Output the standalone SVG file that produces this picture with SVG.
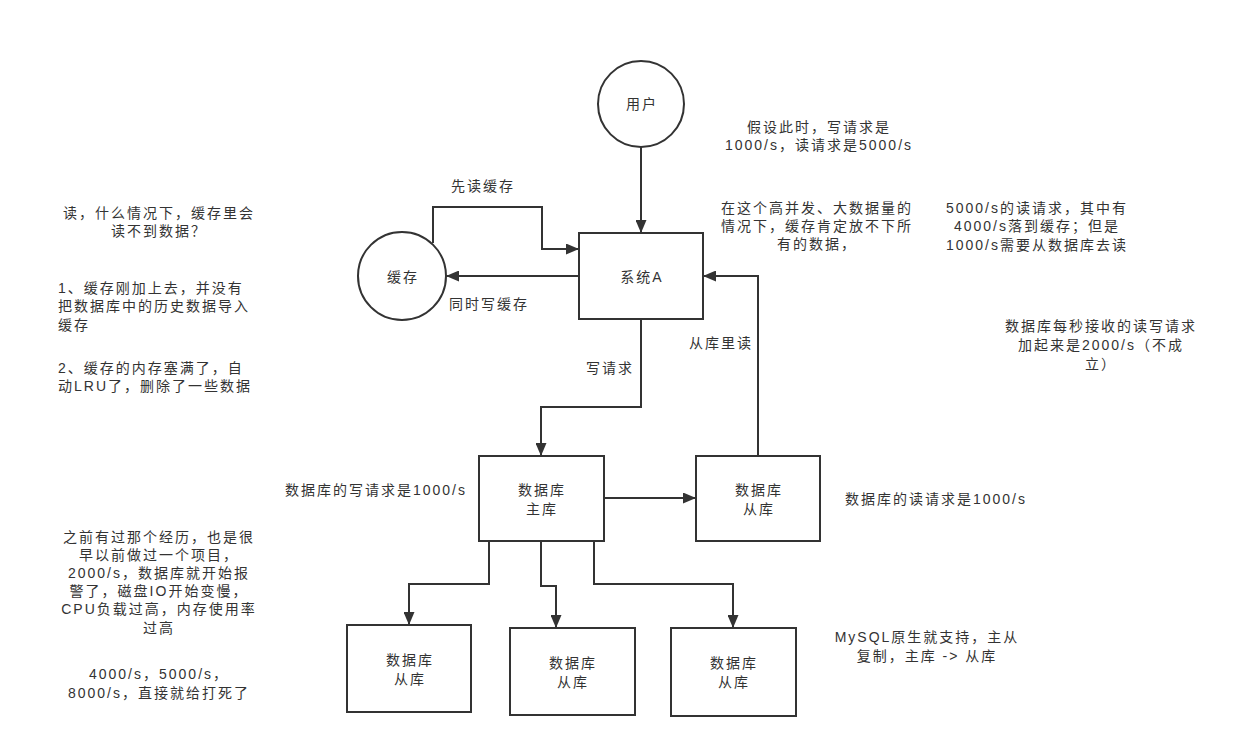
<svg xmlns="http://www.w3.org/2000/svg" width="1240" height="756" viewBox="0 0 1240 756">
<defs>
<marker id="arr" markerUnits="userSpaceOnUse" markerWidth="13" markerHeight="11" refX="13" refY="5.5" orient="auto">
<path d="M0,0 L13,5.5 L0,11 z" fill="#333"/>
</marker>
<style>
.n{fill:#fff;stroke:#333;stroke-width:2}
.c{fill:none;stroke:#333;stroke-width:2;marker-end:url(#arr)}
text{font-family:"Liberation Sans","Noto Sans CJK SC",sans-serif;font-size:14px;letter-spacing:2px;fill:#333}
.m{text-anchor:middle}
</style>
</defs>
<rect width="1240" height="756" fill="#fff"/>
<g id="connectors">
<path class="c" d="M641,147 V233"/>
<path class="c" d="M433,243 V207 H542 V249 H579"/>
<path class="c" d="M579,276 H446"/>
<path class="c" d="M641,319 V407 H541 V456"/>
<path class="c" d="M758,456 V276 H703"/>
<path class="c" d="M604,498 H696"/>
<path class="c" d="M489,541 V584 H409 V625"/>
<path class="c" d="M541,541 V586 H556 V628"/>
<path class="c" d="M594,541 V584 H733 V628"/>
</g>
<g id="user"><circle class="n" cx="641" cy="104" r="43"/><text class="m" x="642" y="109">用户</text></g>
<g id="cache"><circle class="n" cx="402" cy="276" r="44"/><text class="m" x="403" y="282">缓存</text></g>
<g id="systemA"><rect class="n" x="579" y="233" width="124" height="86"/><text class="m" x="642" y="282">系统A</text></g>
<g id="master"><rect class="n" x="479" y="456" width="125" height="85"/><text class="m" x="542" y="495">数据库</text><text class="m" x="542" y="514">主库</text></g>
<g id="slave0"><rect class="n" x="696" y="456" width="124" height="85"/><text class="m" x="759" y="495">数据库</text><text class="m" x="759" y="514">从库</text></g>
<g id="slave1"><rect class="n" x="347" y="625" width="124" height="87"/><text class="m" x="410" y="665">数据库</text><text class="m" x="410" y="684">从库</text></g>
<g id="slave2"><rect class="n" x="510" y="628" width="125" height="87"/><text class="m" x="573" y="668">数据库</text><text class="m" x="573" y="687">从库</text></g>
<g id="slave3"><rect class="n" x="671" y="628" width="125" height="88"/><text class="m" x="734" y="668">数据库</text><text class="m" x="734" y="687">从库</text></g>
<g id="labels">
<text class="m" x="483" y="191">先读缓存</text>
<text class="m" x="489" y="309">同时写缓存</text>
<text class="m" x="610" y="373">写请求</text>
<text class="m" x="721" y="348">从库里读</text>
<text class="m" x="376" y="495">数据库的写请求是1000/s</text>
<text class="m" x="936" y="504">数据库的读请求是1000/s</text>
<text class="m" x="819" y="132">假设此时，写请求是</text>
<text class="m" x="819" y="150">1000/s，读请求是5000/s</text>
<text class="m" x="817" y="213">在这个高并发、大数据量的</text>
<text class="m" x="817" y="231">情况下，缓存肯定放不下所</text>
<text class="m" x="817" y="249">有的数据，</text>
<text class="m" x="1037" y="213">5000/s的读请求，其中有</text>
<text class="m" x="1037" y="231">4000/s落到缓存；但是</text>
<text class="m" x="1037" y="250">1000/s需要从数据库去读</text>
<text class="m" x="1101" y="331">数据库每秒接收的读写请求</text>
<text class="m" x="1101" y="350">加起来是2000/s（不成</text>
<text class="m" x="1101" y="369">立）</text>
<text class="m" x="159" y="218">读，什么情况下，缓存里会</text>
<text class="m" x="159" y="236">读不到数据？</text>
<text x="58" y="293">1、缓存刚加上去，并没有</text>
<text x="58" y="311">把数据库中的历史数据导入</text>
<text x="58" y="330">缓存</text>
<text x="58" y="373">2、缓存的内存塞满了，自</text>
<text x="58" y="391">动LRU了，删除了一些数据</text>
<text class="m" x="159" y="542">之前有过那个经历，也是很</text>
<text class="m" x="159" y="560">早以前做过一个项目，</text>
<text class="m" x="159" y="578">2000/s，数据库就开始报</text>
<text class="m" x="159" y="596">警了，磁盘IO开始变慢，</text>
<text class="m" x="159" y="614">CPU负载过高，内存使用率</text>
<text class="m" x="159" y="633">过高</text>
<text class="m" x="159" y="679">4000/s，5000/s，</text>
<text class="m" x="159" y="698">8000/s，直接就给打死了</text>
<text class="m" x="927" y="642">MySQL原生就支持，主从</text>
<text class="m" x="927" y="661">复制，主库 -&gt; 从库</text>
</g>
</svg>
